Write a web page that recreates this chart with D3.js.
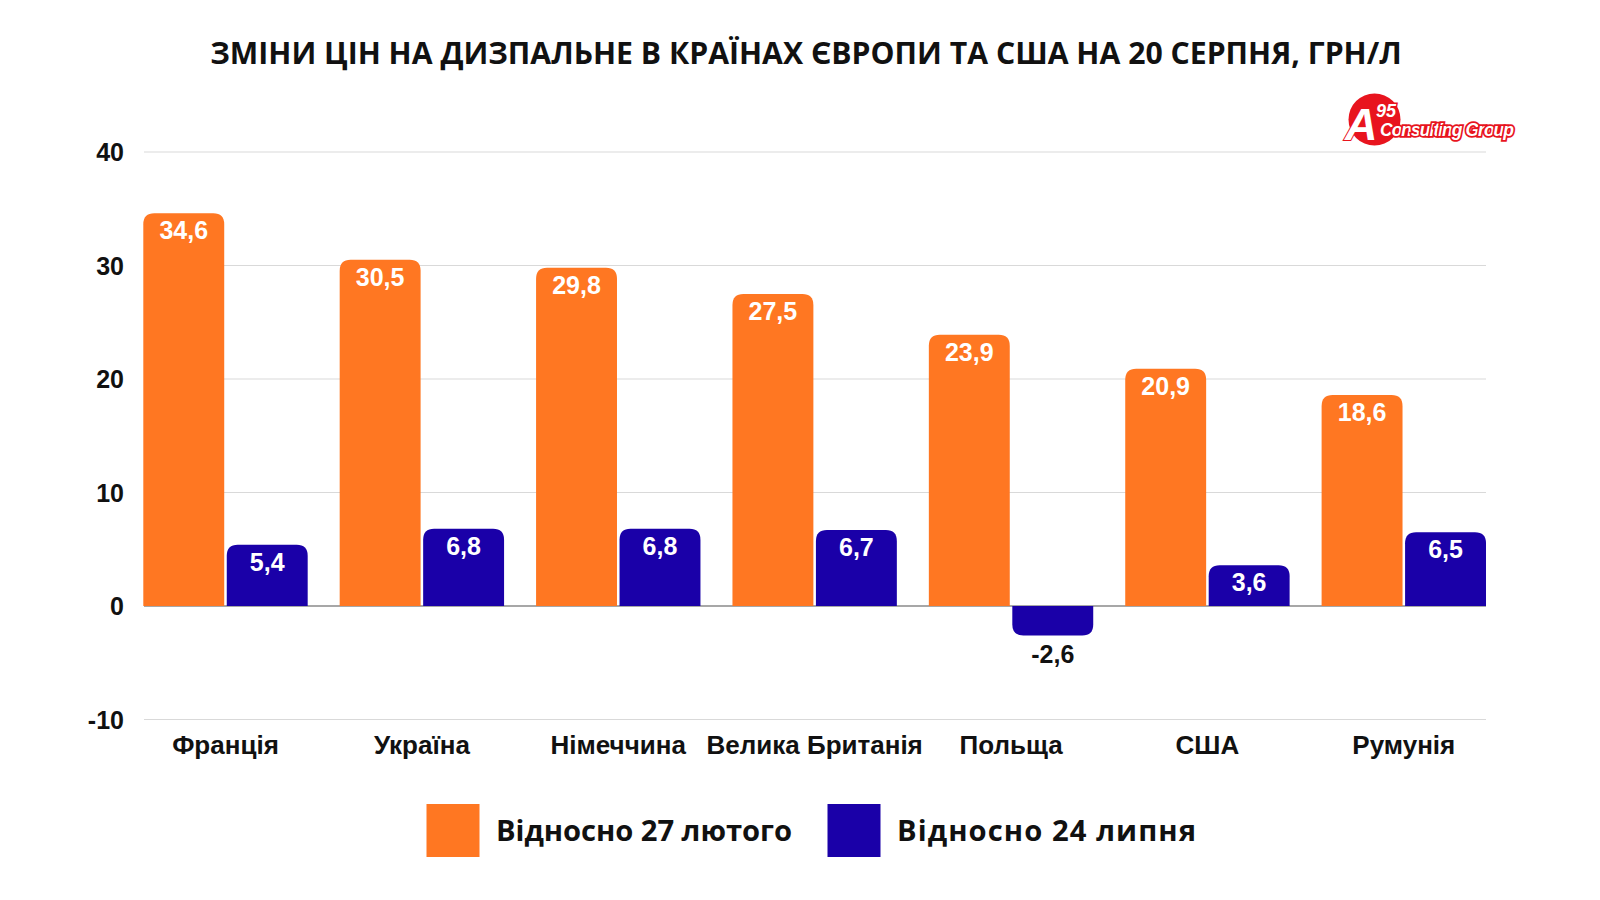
<!DOCTYPE html>
<html><head><meta charset="utf-8">
<script src="https://cdn.jsdelivr.net/npm/d3@7"></script>
<style>body{margin:0;background:#fff}svg{display:block}</style>
</head><body>
<svg id="c" width="1600" height="900"></svg>
<script>
const categories = ["Франція","Україна","Німеччина","Велика Британія","Польща","США","Румунія"];
const seriesNames = ["Відносно 27 лютого","Відносно 24 липня"];
const valuesFeb27 = [34.6,30.5,29.8,27.5,23.9,20.9,18.6];
const valuesJul24 = [5.4,6.8,6.8,6.7,-2.6,3.6,6.5];
const yTicks = [-10,0,10,20,30,40];
const colors = ["#FF7722","#1A00A8"];
const title = "ЗМІНИ ЦІН НА ДИЗПАЛЬНЕ В КРАЇНАХ ЄВРОПИ ТА США НА 20 СЕРПНЯ, ГРН/Л";

const svg = d3.select("#c");
const x0 = d3.scaleBand().domain(categories).range([143.3,1486]).paddingInner(32/196.4).paddingOuter(0);
const x1 = d3.scaleBand().domain([0,1]).range([0,x0.bandwidth()]).paddingInner(5/164);
const y = d3.scaleLinear().domain([-10,40]).range([719.5,152]);

svg.append("text").attr("x",806).attr("y",64).attr("text-anchor","middle")
  .attr("font-family","'Open Sans'").attr("font-weight",700).attr("font-size",30.2).attr("fill","#111").text(title);

// grid
svg.append("g").selectAll("line").data(yTicks).join("line")
  .attr("x1",144).attr("x2",1486).attr("y1",d=>y(d)).attr("y2",d=>y(d))
  .attr("stroke",d=>d===0?"#8a8a8a":"#d9d9d9").attr("stroke-width",d=>d===0?1.5:1);

// y axis labels
const yAxis = d3.axisLeft(y).tickValues(yTicks).tickSize(0).tickPadding(0).tickFormat(d=>d);
const ya = svg.append("g").attr("transform","translate(124,0)").call(yAxis);
ya.select(".domain").remove();
ya.selectAll("text").attr("font-family","'Liberation Sans'").attr("font-weight",700).attr("font-size",25).attr("fill","#111").attr("dy","0.35em");

// x axis labels
const xAxis = d3.axisBottom(x0).tickSize(0).tickPadding(0);
const xa = svg.append("g").attr("transform","translate(0,745)").call(xAxis);
xa.select(".domain").remove();
xa.selectAll("text").attr("font-family","'Liberation Sans'").attr("font-weight",700).attr("font-size",26).attr("fill","#111").attr("dy","0.35em");

function barPath(x,w,y0,y1,r){
  const top=Math.min(y0,y1), bot=Math.max(y0,y1);
  const h=bot-top; r=Math.min(r,h,w/2);
  if(y1<y0){
    return `M${x},${bot}V${top+r}Q${x},${top} ${x+r},${top}H${x+w-r}Q${x+w},${top} ${x+w},${top+r}V${bot}Z`;
  } else {
    return `M${x},${top}V${bot-r}Q${x},${bot} ${x+r},${bot}H${x+w-r}Q${x+w},${bot} ${x+w},${bot-r}V${top}Z`;
  }
}
const fmt = v=>String(v).replace(".",",");
const data = categories.map((c,i)=>({c, vals:[valuesFeb27[i],valuesJul24[i]]}));
const g = svg.append("g").selectAll("g").data(data).join("g").attr("transform",d=>`translate(${x0(d.c)},0)`);
g.selectAll("path").data(d=>d.vals.map((v,k)=>({v,k}))).join("path")
  .attr("d",d=>barPath(x1(d.k),x1.bandwidth(),y(0),y(d.v),11))
  .attr("fill",d=>colors[d.k]);
g.selectAll("text").data(d=>d.vals.map((v,k)=>({v,k}))).join("text")
  .attr("x",d=>x1(d.k)+x1.bandwidth()/2)
  .attr("y",d=>d.v>=0?y(d.v)+26:y(d.v)+27)
  .attr("text-anchor","middle").attr("font-family","'Liberation Sans'").attr("font-weight",700).attr("font-size",25)
  .attr("fill",d=>d.v>=0?"#fff":"#111").text(d=>fmt(d.v));

// legend
const legX=[426.5,827.5];
const legLen=[296,299];
const lg = svg.append("g").selectAll("g").data(seriesNames).join("g").attr("transform",(d,i)=>`translate(${legX[i]},804)`);
lg.append("rect").attr("width",53).attr("height",53).attr("fill",(d,i)=>colors[i]);
lg.append("text").attr("x",69.5).attr("y",37).attr("font-family","'Open Sans'").attr("font-weight",700).attr("font-size",29.2)
  .attr("textLength",(d,i)=>legLen[i]).attr("lengthAdjust","spacing").attr("fill","#111").text(d=>d);

// logo
const logo = svg.append("g");
logo.append("circle").attr("cx",1374.5).attr("cy",119.5).attr("r",26).attr("fill","#E8141E");
logo.append("text").attr("x",1345).attr("y",140).attr("font-family","'Liberation Sans'").attr("font-weight",700).attr("font-style","italic").attr("font-size",45)
  .attr("fill","#fff").attr("stroke","#E8141E").attr("stroke-width",2).attr("paint-order","stroke").text("A");
logo.append("text").attr("x",1376).attr("y",117).attr("font-family","'Liberation Sans'").attr("font-weight",700).attr("font-style","italic").attr("font-size",18)
  .attr("fill","#fff").attr("stroke","#E8141E").attr("stroke-width",3).attr("paint-order","stroke").text("95");
logo.append("text").attr("x",1380).attr("y",136).attr("font-family","'Liberation Sans Narrow','Liberation Sans'").attr("font-weight",700).attr("font-style","italic").attr("font-size",17.5)
  .attr("textLength",134).attr("fill","#fff").attr("stroke","#E8141E").attr("stroke-width",3.5).attr("paint-order","stroke").text("Consulting Group");
</script>
</body></html>
